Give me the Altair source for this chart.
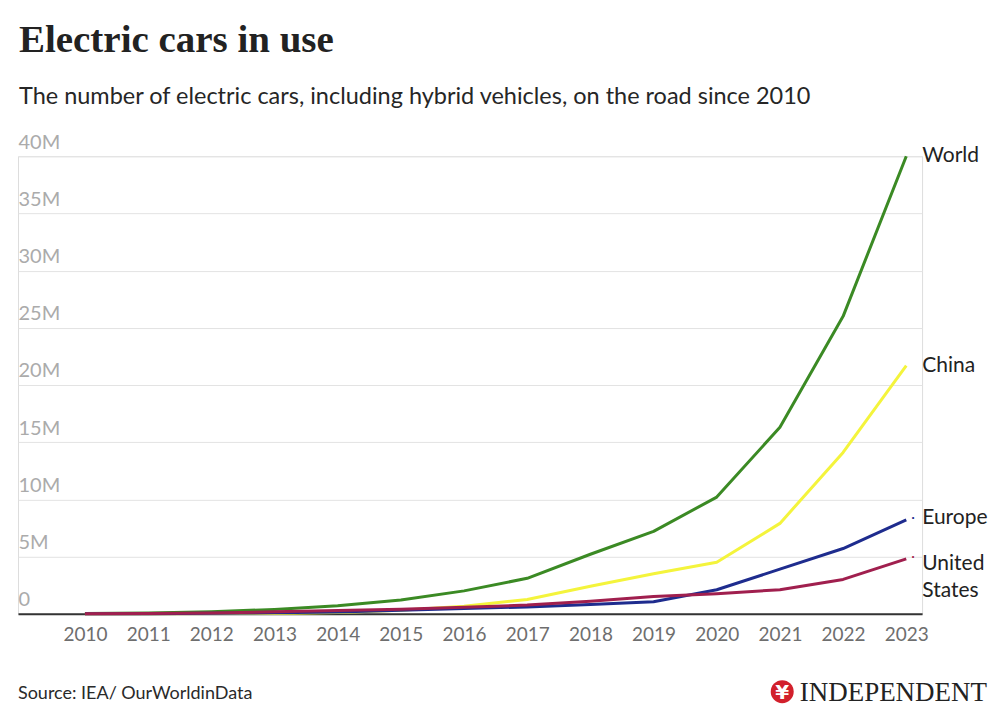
import altair as alt
import pandas as pd

years = list(range(2010, 2024))
world = [0.02, 0.07, 0.18, 0.38, 0.7, 1.2, 2.0, 3.1, 5.2, 7.2, 10.2, 16.3, 26.0, 40.0]
china = [0.0, 0.01, 0.02, 0.03, 0.1, 0.3, 0.65, 1.25, 2.4, 3.5, 4.5, 7.9, 14.1, 21.7]
europe = [0.0, 0.01, 0.04, 0.08, 0.15, 0.3, 0.45, 0.6, 0.8, 1.05, 2.1, 3.9, 5.7, 8.2]
united_states = [0.0, 0.02, 0.07, 0.17, 0.29, 0.4, 0.57, 0.76, 1.1, 1.5, 1.75, 2.1, 3.0, 4.8]

series_names = ["World", "China", "Europe", "United States"]
series_colors = ["#3b8a24", "#f4f43c", "#1e2c8e", "#a01f4e"]
series_values = [world, china, europe, united_states]

rows = []
for name, vals in zip(series_names, series_values):
    for y, v in zip(years, vals):
        rows.append({"year": y, "value": v, "series": name})
df = pd.DataFrame(rows)

W, H = 905, 458
FONT = "Lato"

xscale = alt.Scale(domain=[2008.94, 2023.25], nice=False, zero=False)
yscale = alt.Scale(domain=[0, 40], nice=False)

base = alt.Chart(df)

lines = base.mark_line(strokeWidth=3, strokeJoin="round").encode(
    x=alt.X("year:Q", scale=xscale,
            axis=alt.Axis(values=years, format="d", title=None, grid=False, ticks=False,
                          domainColor="#333333", domainWidth=2,
                          labelColor="#6e6e6e", labelFont=FONT, labelFontSize=19,
                          labelPadding=12)),
    y=alt.Y("value:Q", scale=yscale,
            axis=alt.Axis(values=[0, 5, 10, 15, 20, 25, 30, 35, 40], title=None,
                          domain=False, ticks=False, gridColor="#e3e3e3", gridWidth=1,
                          labelAlign="left", labelBaseline="alphabetic", labelPadding=0,
                          labelOffset=-8, labelColor="#ababab", labelFont=FONT,
                          labelFontSize=20,
                          labelExpr="datum.value == 0 ? '0' : datum.value + 'M'")),
    color=alt.Color("series:N", scale=alt.Scale(domain=series_names, range=series_colors),
                    legend=None),
    detail="series:N",
)

last = base.transform_filter(alt.datum.year == 2023)

def end_label(name, dy, baseline="middle"):
    return last.transform_filter(alt.datum.series == name).mark_text(
        align="left", baseline=baseline, dx=16, dy=dy, font=FONT, fontSize=21,
        color="#222222", lineBreak="\n", lineHeight=27,
    ).encode(
        x="year:Q", y="value:Q",
        text=alt.value(name.replace(" ", "\n")),
    )

labels = (end_label("World", 0) + end_label("China", 0) + end_label("Europe", -2)
          + end_label("United States", -6, "top"))

connectors = last.transform_filter(
    (alt.datum.series == "Europe") | (alt.datum.series == "United States")
).mark_text(align="left", baseline="middle", dx=5, dy=-2, fontSize=14, font=FONT).encode(
    x="year:Q", y="value:Q", text=alt.value("·"),
    color=alt.Color("series:N", scale=alt.Scale(domain=series_names, range=series_colors),
                    legend=None),
)

def free_text(txt, x, y, size, font, weight="normal", color="#222222", align="left"):
    return alt.Chart(pd.DataFrame({"t": [txt]})).mark_text(
        align=align, baseline="alphabetic", font=font, fontSize=size,
        fontWeight=weight, color=color,
    ).encode(x=alt.value(x), y=alt.value(y), text="t:N")

title = free_text("Electric cars in use", 1, -104, 39, "Liberation Serif", "bold")
subtitle = free_text("The number of electric cars, including hybrid vehicles, on the road since 2010",
                     1, -52, 23.5, FONT, color="#262626")
source = free_text("Source: IEA/ OurWorldinData", 0, 543, 18, FONT, color="#2a2a2a")
brand = free_text("INDEPENDENT", 970, 545, 27, "Liberation Serif", color="#222222", align="right")
logo = alt.Chart(pd.DataFrame({"t": [1]})).mark_point(
    filled=True, shape="circle", size=530, color="#d2202c", opacity=1
).encode(x=alt.value(765), y=alt.value(536))
logo_mark = free_text("¥", 765, 543, 20, "DejaVu Sans", "bold", color="#ffffff", align="center")

chart = alt.layer(
    lines, connectors, labels, title, subtitle, source, logo, logo_mark, brand
).properties(
    width=W, height=H,
    autosize=alt.AutoSizeParams(type="none"),
    padding={"left": 10, "top": 148, "right": 70, "bottom": 100},
).configure_view(stroke=None).configure(background="#ffffff")

chart.save("out.html", embed_options={"renderer": "svg", "actions": False})
